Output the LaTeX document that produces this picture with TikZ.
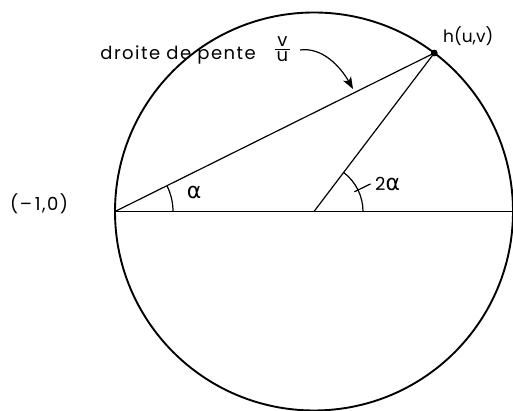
\documentclass[tikz,border=0pt]{standalone}
\usepackage{fontspec}
\setmainfont{Poppins}
\newfontfamily\widefont[LetterSpace=8]{Poppins}
\newfontfamily\grk{DejaVu Sans}
\usetikzlibrary{arrows.meta,calc}
\tikzset{
  lbl/.style={inner sep=0pt, font=\fontsize{18}{21}\selectfont},
  thinline/.style={line width=1.2pt},
  circ/.style={line width=1.9pt},
}
\newcommand{\myalpha}{{\grk\fontsize{22}{24}\selectfont α}}
\begin{document}
\begin{tikzpicture}[x=1pt,y=1pt]
\useasboundingbox (0,0) rectangle (513,411);
\coordinate (O) at (314,199.5);
\coordinate (L) at (115,199.5);
\coordinate (R) at (513,199.5);
\coordinate (H) at (434.3,358);
\draw[circ] (O) circle[radius=199];
\draw[thinline] (L) -- (R);
\draw[thinline] (L) -- (H);
\draw[thinline] (O) -- (H);
\fill (H) circle[radius=3.4];
% angle arcs
\draw[thinline] (L) ++(58,0) arc[start angle=0,end angle=26.4,radius=58];
\draw[thinline] (O) ++(49,0) arc[start angle=0,end angle=52.8,radius=49];
\coordinate (t1) at ($(O)+(26:45)$);
\coordinate (t2) at ($(O)+(26:63)$);
\draw[thinline] (t1) -- (t2);
% labels
\node[lbl] (alpha) at (194,219) {\myalpha};
\node[lbl,anchor=west] (twoalpha) at (375,227) {2\myalpha};
\node[lbl,anchor=west,font=\fontsize{17}{20}\selectfont] (hlabel) at (443,375) {h(u,v)};
\node[lbl,anchor=west] (mlabel) at (10,207) {\widefont(–\,1,0)};
\node[lbl,anchor=base east] (dlabel) at (256,351) {\widefont droite de pente};
\node[lbl] (frac) at (282.5,362) {${\hbox{\kern2pt v\kern2pt}\above 1.3pt\hbox{\kern2pt u\kern2pt}}$};
\coordinate (a1) at (300,361);
\coordinate (a2) at (353,322);
\draw[thinline,-{Stealth[length=12pt,width=9pt,inset=3pt]}] (a1) .. controls (322,364) and (340,345) .. (a2);
\end{tikzpicture}
\end{document}
